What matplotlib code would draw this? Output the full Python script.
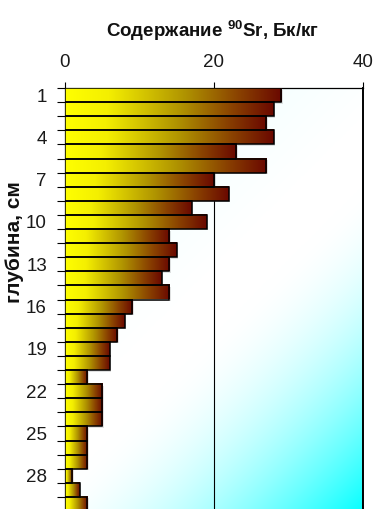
import numpy as np
import matplotlib
matplotlib.use("Agg")
import matplotlib.pyplot as plt
from matplotlib.colors import LinearSegmentedColormap
from matplotlib.patches import Rectangle
from matplotlib.transforms import ScaledTranslation

plt.rcParams["mathtext.fontset"] = "custom"
plt.rcParams["mathtext.rm"] = "Liberation Sans:bold"
plt.rcParams["mathtext.bf"] = "Liberation Sans:bold"
plt.rcParams["mathtext.it"] = "Liberation Sans:bold"

# Depth (cm) and 90Sr content (Bq/kg)
depths = list(range(1, 31))
sr90 = [29, 28, 27, 28, 23, 27, 20, 22, 17, 19,
        14, 15, 14, 13, 14, 9, 8, 7, 6, 6,
        3, 5, 5, 5, 3, 3, 3, 1, 2, 3]
depth_tick_labels = [1, 4, 7, 10, 13, 16, 19, 22, 25, 28]
x_ticks = [0, 20, 40]

W, H = 378, 509
fig = plt.figure(figsize=(W / 100, H / 100), dpi=100)
ax = fig.add_axes([65 / W, 1 - 511 / H, 298 / W, 423 / H])

n = len(depths)
ax.set_xlim(0, 40)
ax.set_ylim(n - 0.5, -0.5)

# Plot-area background: diagonal white-to-cyan fill
ny, nx = 300, 220
xx = np.linspace(0, 1, nx)[None, :] * 298
yy = np.linspace(0, 1, ny)[:, None] * 423
t = (xx + yy) / (298 + 423)
amt = np.where(t > 0.55, ((t - 0.55) / 0.45).clip(0, 1) ** 1.7, 0.0)
amt = amt + np.where(t < 0.45, 0.10 * (0.45 - t) / 0.45, 0.0)
bg = np.ones((ny, nx, 3))
bg[..., 0] = 1 - amt * 0.97
ax.imshow(bg, extent=[0, 1, 0, 1], transform=ax.transAxes, origin="upper",
          aspect="auto", zorder=0, interpolation="bilinear")

# Vertical gridline
ax.axvline(20, color="black", lw=0.8, zorder=1)

# Gradient-filled bars
bar_cmap = LinearSegmentedColormap.from_list(
    "sr", [(0.0, "#ffff00"), (0.2, "#f4ef00"), (0.55, "#b09400"),
           (0.8, "#8a4200"), (1.0, "#6a0800")])
grad = np.linspace(0, 1, 256)[None, :]
shadow_off = ScaledTranslation(1.5 / 100, -1.5 / 100, fig.dpi_scale_trans)
for i, v in enumerate(sr90):
    sh = Rectangle((0, i - 0.5), v, 1.0, facecolor="#888888", edgecolor="none",
                   alpha=0.25, transform=ax.transData + shadow_off, zorder=2)
    ax.add_patch(sh)
    ax.imshow(grad, cmap=bar_cmap, extent=[0, v, i + 0.5, i - 0.5],
              aspect="auto", zorder=3, interpolation="bilinear")
    ax.add_patch(Rectangle((0, i - 0.5), v, 1.0, facecolor="none",
                           edgecolor="black", lw=1.1, zorder=4))

ax.set_xlim(0, 40)
ax.set_ylim(n - 0.5, -0.5)

# Category axis: tick marks between categories, labels every third depth
ax.set_yticks(np.arange(-0.5, n, 1.0))
ax.set_yticklabels([])
ax.tick_params(axis="y", which="major", direction="out", length=5.5,
               width=0.8, color="black")
ax.set_yticks([depths.index(d) for d in depth_tick_labels], minor=True)
ax.set_yticklabels([str(d) for d in depth_tick_labels], minor=True)
ax.tick_params(axis="y", which="minor", length=0, pad=13,
               labelsize=13.5, labelcolor="#1a1a1a")
for lab in ax.get_yticklabels(minor=True):
    lab.set_family("Liberation Sans")

ax.xaxis.tick_top()
ax.set_xticks(x_ticks)
ax.set_xticklabels([str(x) for x in x_ticks])
ax.tick_params(axis="x", direction="out", length=4.5, width=0.8, pad=8,
               labelsize=13.5, labelcolor="#1a1a1a")
for lab in ax.get_xticklabels():
    lab.set_family("Liberation Sans")

for s in ["top", "left", "right", "bottom"]:
    ax.spines[s].set_color("black")
ax.spines["top"].set_linewidth(0.9)
ax.spines["left"].set_linewidth(0.9)
ax.spines["right"].set_linewidth(1.4)
ax.spines["bottom"].set_visible(False)

fig.text(213 / W, 1 - 31 / H, r"Содержание $^{90}$Sr, Бк/кг", ha="center",
         va="center", fontsize=13.5, fontweight="bold",
         family=["Liberation Sans", "DejaVu Sans"], color="#111111")
fig.text(15 / W, 1 - 242 / H, "глубина, см", ha="center", va="center",
         rotation=90, fontsize=15, fontweight="bold",
         family=["Liberation Sans", "DejaVu Sans"], color="#111111")

fig.savefig("out.png", dpi=100)
